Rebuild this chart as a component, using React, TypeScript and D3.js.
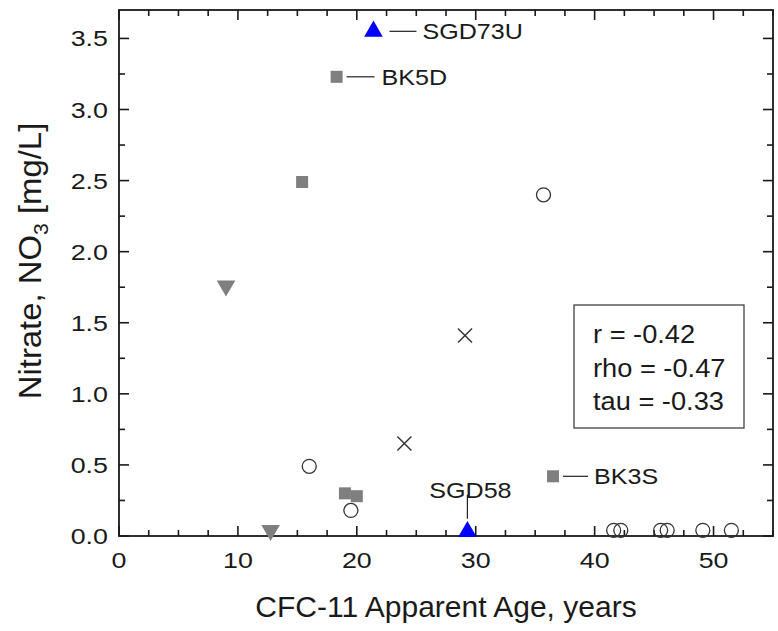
import React from "react";
import * as d3 from "d3";

// Data
const squaresX = [18.3, 15.4, 19.0, 20.0, 36.5];
const squaresY = [3.23, 2.49, 0.3, 0.28, 0.42];
const downTriX = [9.0, 12.75];
const downTriY = [1.76, 0.04];
const upTriX = [21.4, 29.3];
const upTriY = [3.55, 0.03];
const circlesX = [16.0, 19.5, 35.7, 41.6, 42.2, 45.55, 46.1, 49.1, 51.5];
const circlesY = [0.49, 0.18, 2.4, 0.04, 0.04, 0.04, 0.04, 0.04, 0.04];
const crossX = [24.0, 29.1];
const crossY = [0.65, 1.41];
const xTicks = [0, 10, 20, 30, 40, 50];
const yTicks = [0, 0.5, 1.0, 1.5, 2.0, 2.5, 3.0, 3.5];
const statsLines = ["r = -0.42", "rho = -0.47", "tau = -0.33"];

const W = 778, H = 631;
const L = 119, R = 773, T = 10, B = 536;
const FONT = "Arial, 'Liberation Sans', Helvetica, sans-serif";

function SText(props: { x: number; y: number; sx: number; size: number; anchor?: string; children: React.ReactNode }) {
  const { x, y, sx, size, anchor, children } = props;
  return (
    <text
      transform={`translate(${x},${y}) scale(${sx},1)`}
      textAnchor={anchor || "start"}
      fontFamily={FONT}
      fontSize={size}
      fill="#1a1a1a"
    >
      {children}
    </text>
  );
}

export default function App() {
  const x = d3.scaleLinear().domain([0, 55]).range([L, R]);
  const y = d3.scaleLinear().domain([0, 3.7]).range([B, T]);
  const xMinor = d3.range(0, 55.01, 2.5);
  const yMinor = d3.range(0, 3.701, 0.25);
  const triUp = d3.symbol().type(d3.symbolTriangle).size(150)()!;
  const sq = 12;
  const cr = 7;
  const xs = 7;
  const isMajorX = (v: number) => Math.abs(v % 10) < 1e-6;
  const isMajorY = (v: number) => Math.abs((v * 2) % 1) < 1e-6;

  return (
    <svg width={W} height={H} style={{ position: "absolute", left: 0, top: 0, background: "#fff" }}>
      {/* frame */}
      <rect x={L} y={T} width={R - L} height={B - T} fill="none" stroke="#1a1a1a" strokeWidth={1.8} />
      {xMinor.map((v) => {
        const len = isMajorX(v) ? 10 : 6;
        return (
          <g key={"xt" + v}>
            <line x1={x(v)} x2={x(v)} y1={B} y2={B - len} stroke="#1a1a1a" strokeWidth={1.6} />
            <line x1={x(v)} x2={x(v)} y1={T} y2={T + len} stroke="#1a1a1a" strokeWidth={1.6} />
          </g>
        );
      })}
      {yMinor.map((v) => {
        const len = isMajorY(v) ? 10 : 6;
        return (
          <g key={"yt" + v}>
            <line x1={L} x2={L + len} y1={y(v)} y2={y(v)} stroke="#1a1a1a" strokeWidth={1.6} />
            <line x1={R} x2={R - len} y1={y(v)} y2={y(v)} stroke="#1a1a1a" strokeWidth={1.6} />
          </g>
        );
      })}
      {/* tick labels */}
      {xTicks.map((v) => (
        <SText key={"xl" + v} x={x(v)} y={568} sx={1.22} size={22} anchor="middle">
          {v}
        </SText>
      ))}
      {yTicks.map((v) => (
        <SText key={"yl" + v} x={108} y={y(v) + 8} sx={1.22} size={22} anchor="end">
          {v.toFixed(1)}
        </SText>
      ))}
      {/* axis titles */}
      <text x={(L + R) / 2} y={617} textAnchor="middle" fontFamily={FONT} fontSize={30} fill="#1a1a1a">
        CFC-11 Apparent Age, years
      </text>
      <text
        transform={`translate(41, 261) rotate(-90) scale(1.06,1)`}
        textAnchor="middle"
        fontFamily={FONT}
        fontSize={31}
        fill="#1a1a1a"
      >
        Nitrate, NO<tspan fontSize={20} dy={7}>3</tspan>
        <tspan dy={-7}> [mg/L]</tspan>
      </text>

      {/* stats box */}
      <rect x={574} y={305} width={170} height={123} fill="#fff" stroke="#333" strokeWidth={1.2} />
      {statsLines.map((s, i) => (
        <SText key={s} x={593} y={343 + i * 33.5} sx={1.09} size={25}>
          {s}
        </SText>
      ))}

      {/* circles */}
      {circlesX.map((v, i) => (
        <circle key={"c" + i} cx={x(v)} cy={y(circlesY[i])} r={cr} fill="none" stroke="#333" strokeWidth={1.3} />
      ))}
      {/* crosses */}
      {crossX.map((v, i) => (
        <g key={"x" + i} stroke="#333" strokeWidth={1.4}>
          <line x1={x(v) - xs} x2={x(v) + xs} y1={y(crossY[i]) - xs} y2={y(crossY[i]) + xs} />
          <line x1={x(v) - xs} x2={x(v) + xs} y1={y(crossY[i]) + xs} y2={y(crossY[i]) - xs} />
        </g>
      ))}
      {/* squares */}
      {squaresX.map((v, i) => (
        <rect key={"s" + i} x={x(v) - sq / 2} y={y(squaresY[i]) - sq / 2} width={sq} height={sq} fill="#7f7f7f" />
      ))}
      {/* down triangles */}
      {downTriX.map((v, i) => (
        <path key={"d" + i} d={triUp} transform={`translate(${x(v)},${y(downTriY[i])}) rotate(180)`} fill="#7f7f7f" />
      ))}
      {/* up triangles */}
      {upTriX.map((v, i) => (
        <path key={"u" + i} d={triUp} transform={`translate(${x(v)},${y(upTriY[i])})`} fill="#0000ff" />
      ))}

      {/* labels */}
      <line x1={x(upTriX[0]) + 16} x2={x(upTriX[0]) + 43} y1={y(upTriY[0])} y2={y(upTriY[0])} stroke="#222" strokeWidth={1.2} />
      <SText x={x(upTriX[0]) + 49} y={y(upTriY[0]) + 8} sx={1.14} size={22}>SGD73U</SText>

      <line x1={x(squaresX[0]) + 10} x2={x(squaresX[0]) + 38} y1={y(squaresY[0])} y2={y(squaresY[0])} stroke="#222" strokeWidth={1.2} />
      <SText x={x(squaresX[0]) + 45} y={y(squaresY[0]) + 8} sx={1.14} size={22}>BK5D</SText>

      <line x1={x(squaresX[4]) + 10} x2={x(squaresX[4]) + 35} y1={y(squaresY[4])} y2={y(squaresY[4])} stroke="#222" strokeWidth={1.2} />
      <SText x={x(squaresX[4]) + 41} y={y(squaresY[4]) + 8} sx={1.14} size={22}>BK3S</SText>

      <line x1={x(upTriX[1])} x2={x(upTriX[1])} y1={y(upTriY[1]) - 37} y2={y(upTriY[1]) - 13} stroke="#222" strokeWidth={1.2} />
      <SText x={x(upTriX[1]) + 3} y={y(upTriY[1]) - 34} sx={1.14} size={22} anchor="middle">SGD58</SText>
    </svg>
  );
}
